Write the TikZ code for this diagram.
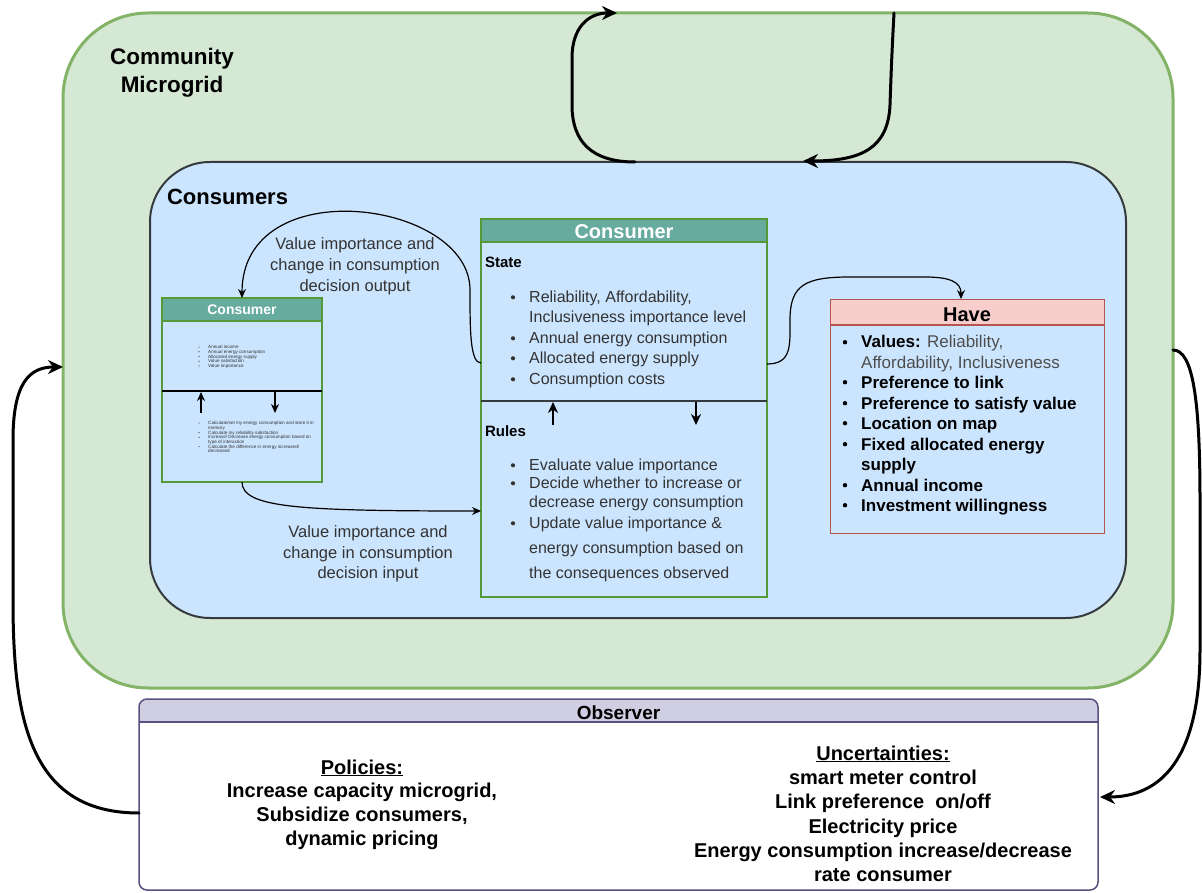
\documentclass[tikz,border=0pt]{standalone}
\usepackage{fontspec}
\setmainfont{Liberation Sans}
\usetikzlibrary{arrows.meta}

\definecolor{gridfill}{HTML}{D5E8D4}
\definecolor{gridline}{HTML}{82B366}
\definecolor{consfill}{HTML}{CCE5FF}
\definecolor{consline}{HTML}{36393D}
\definecolor{hdrteal}{HTML}{67AB9F}
\definecolor{agentline}{HTML}{559A35}
\definecolor{havefill}{HTML}{F8CECC}
\definecolor{haveline}{HTML}{B85450}
\definecolor{obsfill}{HTML}{D0CEE2}
\definecolor{obsline}{HTML}{56517E}
\definecolor{txt}{HTML}{333333}
\definecolor{softtxt}{HTML}{4D4D4D}

\newcommand\fsz[2]{\fontsize{#1}{#2}\selectfont}

\begin{document}
\begin{tikzpicture}[x=1pt,y=-1pt,
  shapebox/.style={inner sep=0pt, outer sep=0pt},
  thinarrow/.style={draw=black, line width=1.2pt, -{Stealth[length=9pt,width=8pt]}},
  innerarrow/.style={draw=black, line width=2pt, -{Stealth[length=11pt,width=10pt]}},
  bigarrow/.style={draw=black, line width=3pt, line cap=round, -{Stealth[length=15pt,width=14pt]}},
  item/.style={anchor=base west, inner sep=0pt, text=txt, font=\fsz{16}{19}},
  haveitem/.style={anchor=base west, inner sep=0pt, text=black, font=\fsz{17}{20}\bfseries},
  tinyitem/.style={anchor=base west, inner sep=0pt, text=txt, font=\fsz{4.6}{5}},
  label/.style={anchor=base, inner sep=0pt, text=txt, font=\fsz{16.5}{20}},
  obsitem/.style={anchor=base, inner sep=0pt, text=black, font=\fsz{20}{24}\bfseries},
]
\useasboundingbox (0,0) rectangle (1202,893);

% ---------- containers ----------
\node[shapebox, draw=gridline, fill=gridfill, line width=3pt, rounded corners=85pt,
      minimum width=1110pt, minimum height=675pt] (grid) at (618,350.5) {};
\node[shapebox, anchor=base, font=\fsz{22.5}{28}\bfseries] (gridtitle1) at (172,65) {Community};
\node[shapebox, anchor=base, font=\fsz{22.5}{28}\bfseries] (gridtitle2) at (172,93) {Microgrid};

\node[shapebox, draw=consline, fill=consfill, line width=2pt, rounded corners=60pt,
      minimum width=976pt, minimum height=456pt] (cons) at (638,390) {};
\node[shapebox, anchor=base west, font=\fsz{22}{26}\bfseries] (constitle) at (167,205) {Consumers};

% ---------- main consumer agent ----------
\node[shapebox, draw=agentline, fill=consfill, line width=2.5pt,
      minimum width=286pt, minimum height=378pt] (agent) at (624,408) {};
\node[shapebox, draw=agentline, fill=hdrteal, line width=2.5pt,
      minimum width=286pt, minimum height=23pt] (agenthd) at (624,230.5) {};
\node[shapebox, anchor=base, text=white, font=\fsz{20}{24}\bfseries] (agentttl) at (624,239) {Consumer};
\coordinate (sepL) at (481,401);
\coordinate (sepR) at (767,401);
\draw[consline, line width=1.5pt] (sepL) -- (sepR);

\node[shapebox, anchor=base west, font=\fsz{15}{18}\bfseries] (statehd) at (485,267.5) {State};
\foreach \by/\tx [count=\i] in {302.7/{Reliability, Affordability,},
    322.7/{Inclusiveness importance level}, 343.7/{Annual energy consumption},
    363.7/{Allocated energy supply}, 384.7/{Consumption costs}}
  \node[item] (state\i) at (529,\by) {\tx};
\foreach \by in {302.7,343.7,363.7,384.7}
  \fill[txt] (513,\by-5.4) circle (2.1pt);

\node[shapebox, anchor=base west, font=\fsz{15}{18}\bfseries] (ruleshd) at (485,436.5) {Rules};
\foreach \by/\tx [count=\i] in {470.7/{Evaluate value importance},
    488.7/{Decide whether to increase or}, 507.7/{decrease energy consumption},
    528.7/{Update value importance \&}, 553.7/{energy consumption based on},
    578.7/{the consequences observed}}
  \node[item] (rule\i) at (529,\by) {\tx};
\foreach \by in {470.7,488.7,528.7}
  \fill[txt] (513,\by-5.4) circle (2.1pt);

\coordinate (upS) at (553,425);
\coordinate (upE) at (553,402);
\coordinate (dnS) at (696,402);
\coordinate (dnE) at (696,425);
\draw[innerarrow] (upS) -- (upE);
\draw[innerarrow] (dnS) -- (dnE);

% ---------- small consumer agent ----------
\node[shapebox, draw=agentline, fill=consfill, line width=1.5pt,
      minimum width=160pt, minimum height=184pt] (small) at (242,390) {};
\node[shapebox, draw=agentline, fill=hdrteal, line width=1.5pt,
      minimum width=160pt, minimum height=23pt] (smallhd) at (242,309.5) {};
\node[shapebox, anchor=base, text=white, font=\fsz{14}{17}\bfseries] (smallttl) at (242,315) {Consumer};
\coordinate (ssepL) at (162,391);
\coordinate (ssepR) at (322,391);
\draw[black, line width=1.2pt] (ssepL) -- (ssepR);

\foreach \by/\tx [count=\i] in {348.6/{Annual income}, 353.3/{Annual energy consumption},
    358/{Allocated energy supply}, 362.7/{Value satisfaction}, 367.4/{Value importance}}
  \node[tinyitem] (sstate\i) at (208,\by) {\tx};
\foreach \by in {348.6,353.3,358,362.7,367.4}
  \fill[txt] (199,\by-1.5) circle (0.6pt);

\foreach \by/\tx [count=\i] in {424.6/{Calculate/set my energy consumption and store it in},
    429.3/{memory}, 434/{Calculate my reliability satisfaction},
    438.7/{Increase/ Decrease energy consumption based on}, 443.4/{type of interaction},
    448.1/{Calculate the difference in energy increased/}, 452.8/{decreased}}
  \node[tinyitem] (srule\i) at (208,\by) {\tx};
\foreach \by in {424.6,434,438.7,448.1}
  \fill[txt] (199,\by-1.5) circle (0.6pt);

\coordinate (supS) at (201,413);
\coordinate (supE) at (201,392);
\coordinate (sdnS) at (275,392);
\coordinate (sdnE) at (275,413);
\draw[thinarrow, line width=1.4pt] (supS) -- (supE);
\draw[thinarrow, line width=1.4pt] (sdnS) -- (sdnE);

% ---------- Have ----------
\node[shapebox, draw=haveline, fill=consfill, line width=1pt,
      minimum width=274pt, minimum height=233pt] (have) at (967,416.5) {};
\node[shapebox, draw=haveline, fill=havefill, line width=1pt,
      minimum width=274pt, minimum height=25pt] (havehd) at (967,312.5) {};
\node[shapebox, anchor=base, font=\fsz{20}{24}\bfseries] (havettl) at (967,321) {Have};
\node[haveitem] (have1) at (861,348) {Values: \mdseries\color{softtxt}Reliability,};
\node[haveitem, text=softtxt, font=\fsz{17}{20}] (have2) at (861,368) {Affordability, Inclusiveness};
\foreach \by/\tx [count=\i from 3] in {388/{Preference to link}, 409/{Preference to satisfy value},
    429/{Location on map}, 450/{Fixed allocated energy}, 470/{supply},
    491/{Annual income}, 511/{Investment willingness}}
  \node[haveitem] (have\i) at (861,\by) {\tx};
\foreach \by in {348,388,409,429,450,491,511}
  \fill[black] (845,\by-5.8) circle (2.2pt);

% ---------- connector labels ----------
\node[label] (outl1) at (355,250) {Value importance and};
\node[label] (outl2) at (355,271) {change in consumption};
\node[label] (outl3) at (355,292) {decision output};
\node[label] (inl1) at (368,537) {Value importance and};
\node[label] (inl2) at (368,558) {change in consumption};
\node[label] (inl3) at (368,578) {decision input};

% ---------- thin connectors ----------
\coordinate (outS) at (481,363);
\draw[thinarrow] (outS) .. controls (470,363) and (470,330) .. (470,290)
  .. controls (470,200) and (242,170) .. (smallhd.north);
\coordinate (inE) at (481,511);
\draw[thinarrow] (small.south) .. controls (242,508) and (300,511) .. (inE);
\coordinate (haveS) at (767,364);
\coordinate (haveE) at (961,299);
\draw[thinarrow] (haveS) .. controls (792,364) and (790,345) .. (790,320)
  .. controls (790,285) and (805,277) .. (850,277) -- (925,277)
  .. controls (950,277) and (961,282) .. (haveE);

% ---------- Observer ----------
\node[shapebox, fill=white, rounded corners=8pt,
      minimum width=959pt, minimum height=191pt] (obs) at (618.5,794.5) {};
\begin{scope}
  \clip[rounded corners=8pt] (obs.south west) rectangle (obs.north east);
  \fill[obsfill] (139,699) rectangle (1098,722);
\end{scope}
\draw[obsline, line width=1.5pt, rounded corners=8pt] (obs.south west) rectangle (obs.north east);
\coordinate (osepL) at (139,722);
\coordinate (osepR) at (1098,722);
\draw[obsline, line width=1.5pt] (osepL) -- (osepR);
\node[shapebox, anchor=base, font=\fsz{19}{23}\bfseries] (obsttl) at (618.5,719.5) {Observer};

\node[obsitem] (pol0) at (362,774) {\underline{Policies:}};
\node[obsitem] (pol1) at (362,797) {Increase capacity microgrid,};
\node[obsitem] (pol2) at (362,821) {Subsidize consumers,};
\node[obsitem] (pol3) at (362,845) {dynamic pricing};

\node[obsitem] (unc0) at (883,760) {\underline{Uncertainties:}};
\node[obsitem] (unc1) at (883,784) {smart meter control};
\node[obsitem] (unc2) at (883,808) {Link preference\ \ on/off};
\node[obsitem] (unc3) at (883,833) {Electricity price};
\node[obsitem] (unc4) at (883,857) {Energy consumption increase/decrease};
\node[obsitem] (unc5) at (883,881) {rate consumer};

% ---------- feedback loops ----------
\coordinate (loopAS) at (635,162);
\coordinate (loopAE) at (617,13);
\draw[bigarrow] (loopAS) .. controls (592,162) and (572,142) .. (572,105) -- (572,58)
  .. controls (572,28) and (588,13) .. (loopAE);
\coordinate (loopBS) at (894,13);
\coordinate (loopBE) at (803,161);
\draw[bigarrow] (loopBS) .. controls (892,50) and (891,75) .. (890,105)
  .. controls (888,148) and (862,161) .. (loopBE);
\coordinate (loopCS) at (139,813);
\coordinate (loopCE) at (63,367);
\draw[bigarrow] (loopCS) .. controls (30,813) and (13,720) .. (13,600) -- (13,440)
  .. controls (13,385) and (28,367) .. (loopCE);
\coordinate (loopDS) at (1173,350);
\coordinate (loopDE) at (1100,797);
\draw[bigarrow] (loopDS) .. controls (1193,350) and (1200,400) .. (1200,500) -- (1200,650)
  .. controls (1200,760) and (1160,797) .. (loopDE);
\end{tikzpicture}
\end{document}
